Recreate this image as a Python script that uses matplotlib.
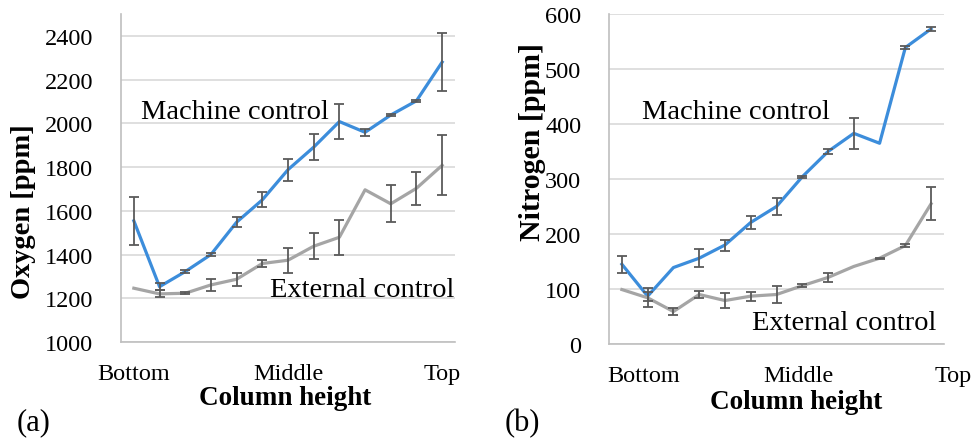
import numpy as np
import matplotlib
matplotlib.use("Agg")
import matplotlib.pyplot as plt
from matplotlib.transforms import ScaledTranslation

plt.rcParams['font.family'] = ['Liberation Serif', 'DejaVu Serif']

positions = np.arange(13)
tick_idx = [0, 6, 12]
tick_labels = ["Bottom", "Middle", "Top"]

oxy_machine = [1554, 1253, 1322, 1400, 1548, 1650, 1788, 1891, 2008, 1959, 2038, 2103, 2280]
oxy_machine_err = [110, 15, 8, 5, 23, 34, 50, 58, 79, 17, 5, 5, 134]
oxy_external = [1246, 1220, 1223, 1261, 1287, 1359, 1374, 1438, 1479, 1696, 1632, 1703, 1808]
oxy_external_err = [0, 16, 5, 27, 30, 14, 58, 59, 80, 0, 85, 76, 138]

nit_machine = [145, 87, 139, 156, 180, 221, 250, 304, 350, 383, 365, 539, 573]
nit_machine_err = [15, 8, 0, 16, 10, 12, 15, 2, 5, 28, 0, 2, 3]
nit_external = [99, 84, 59, 90, 79, 87, 90, 106, 121, 141, 156, 179, 255]
nit_external_err = [0, 17, 7, 7, 14, 8, 15, 3, 8, 0, 1, 3, 30]

BLUE = "#3C8DDB"
GREY = "#A5A5A5"
ERR = "#5A5A5A"
GRID = "#D9D9D9"
AX = "#BFBFBF"

W, H = 976, 439
fig = plt.figure(figsize=(W / 100, H / 100), dpi=100)

def px_axes(x0, y0, x1, y1):
    return fig.add_axes([x0 / W, 1 - y1 / H, (x1 - x0) / W, (y1 - y0) / H])

def draw(ax, mach, mach_err, ext, ext_err):
    ax.plot(positions, mach, color=BLUE, lw=2.3, zorder=3, solid_joinstyle='round')
    ax.plot(positions, ext, color=GREY, lw=2.3, zorder=3, solid_joinstyle='round')
    for vals, errs in ((mach, mach_err), (ext, ext_err)):
        v = np.array(vals, float); e = np.array(errs, float)
        m = e > 0
        ax.errorbar(positions[m], v[m], yerr=e[m], fmt='none', ecolor=ERR,
                    elinewidth=1.3, capsize=3.5, capthick=1.3, zorder=4)
    ax.set_xlim(-0.5, 12.5)
    ax.set_xticks(tick_idx)
    ax.set_xticklabels(tick_labels)
    ax.tick_params(axis='both', length=0, labelsize=17.5, colors='#000000')
    ax.tick_params(axis='x', pad=15)
    ax.tick_params(axis='y', pad=20)
    ax.yaxis.grid(True, color=GRID, lw=1.2)
    ax.set_axisbelow(True)
    for s in ('top', 'right'):
        ax.spines[s].set_visible(False)
    for s in ('left', 'bottom'):
        ax.spines[s].set_color(AX)
        ax.spines[s].set_linewidth(1.2)

ax1 = px_axes(121, 15, 455, 343)
draw(ax1, oxy_machine, oxy_machine_err, oxy_external, oxy_external_err)
ax1.set_ylim(1000, 2500)
ax1.set_yticks(np.arange(1000, 2401, 200))

ax2 = px_axes(609, 15, 944, 345)
draw(ax2, nit_machine, nit_machine_err, nit_external, nit_external_err)
ax2.set_ylim(0, 600)
ax2.set_yticks(np.arange(0, 601, 100))
for lab in ax2.get_xticklabels():
    lab.set_transform(lab.get_transform() + ScaledTranslation(0.22, 0, fig.dpi_scale_trans))

def ftext(x, y, s, **kw):
    fig.text(x / W, 1 - y / H, s, **kw)

ftext(141, 119, "Machine control", fontsize=20.5, ha='left', va='baseline')
ftext(270, 297, "External control", fontsize=20.5, ha='left', va='baseline')
ftext(642, 119, "Machine control", fontsize=20.5, ha='left', va='baseline')
ftext(752, 330, "External control", fontsize=20.5, ha='left', va='baseline')

ftext(285, 405, "Column height", fontsize=19.5, fontweight='bold', ha='center', va='baseline')
ftext(796, 409, "Column height", fontsize=19.5, fontweight='bold', ha='center', va='baseline')
ftext(24, 212, "Oxygen [ppm]", fontsize=20.5, fontweight='bold', ha='center', va='center', rotation=90)
ftext(533, 142, "Nitrogen [ppm]", fontsize=21.5, fontweight='bold', ha='center', va='center', rotation=90)

ftext(34, 423, "(a)", fontsize=22, ha='center', va='center')
ftext(522, 424, "(b)", fontsize=22, ha='center', va='center')

fig.savefig("out.png", dpi=100)
